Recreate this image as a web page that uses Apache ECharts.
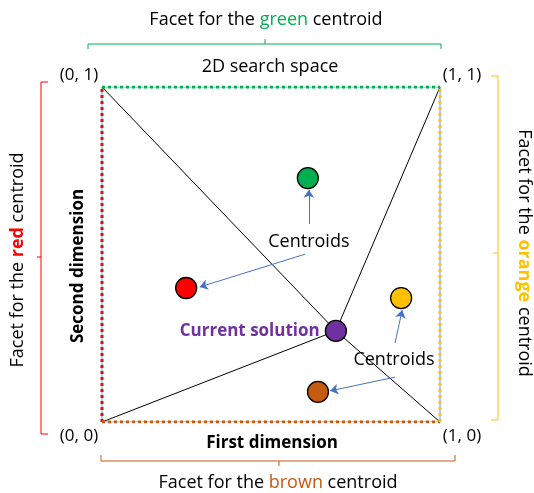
<!DOCTYPE html>
<html><head><meta charset="utf-8">
<script src="https://cdn.jsdelivr.net/npm/echarts@6/dist/echarts.min.js"></script>
<style>html,body{margin:0;padding:0;background:#fff}#c{width:534px;height:493px}</style>
</head><body><div id="c"></div>
<script>
// ---- data ----
const corners = [[0,0],[1,0],[0,1],[1,1]];
const cornerLabels = ['(0, 0)','(1, 0)','(0, 1)','(1, 1)'];
const current = [0.692, 0.272];
const centroidNames = ['green','red','orange','brown'];
const centroidX = [0.609, 0.249, 0.885, 0.639];
const centroidY = [0.728, 0.400, 0.370, 0.090];
const centroidColors = ['#00B050','#FF0000','#FFC000','#C55A11'];
const labelPos = [[0.612,0.537],[0.864,0.185]];
const arrowFrom = [[0.612,0.591],[0.601,0.501],[0.867,0.236],[0.867,0.134]];
const arrowTo   = [[0.612,0.693],[0.289,0.403],[0.888,0.334],[0.675,0.093]];
const edges = [ [[0,1],[1,1]], [[0,0],[0,1]], [[0,0],[1,0]], [[1,0],[1,1]] ];
const edgeColors = ['#00B050','#FF0000','#C55A11','#FFC000'];

const FONT = 'Open Sans';
const chart = echarts.init(document.getElementById('c'));
const series = [];
// spokes
corners.forEach(c => {
  series.push({type:'line', data:[c, current], symbol:'none', silent:true,
    lineStyle:{color:'#000', width:1}, z:2});
});
// square border
edges.forEach((e,i) => {
  series.push({type:'line', data:e, symbol:'none', silent:true, lineStyle:{color:'#7F9CCB', width:1}, z:3});
  series.push({type:'line', data:e, symbol:'none', silent:true, lineStyle:{color:edgeColors[i], width:3, type:[3,3]}, z:4});
});
// arrows
series.push({type:'lines', coordinateSystem:'cartesian2d', z:5,
  symbol:['none','arrow'], symbolSize:8,
  lineStyle:{color:'#4472C4', width:1, opacity:1},
  data: arrowFrom.map((f,i)=>({coords:[f, arrowTo[i]]}))});
// centroids
series.push({type:'scatter', symbolSize:21, z:6,
  data: centroidX.map((x,i)=>({value:[x,centroidY[i]], itemStyle:{color:centroidColors[i]}})),
  itemStyle:{borderColor:'#000', borderWidth:1.3, opacity:1}});
// current solution
series.push({type:'scatter', symbolSize:21, z:7,
  data:[current], itemStyle:{color:'#7030A0', borderColor:'#000', borderWidth:1.3, opacity:1},
  label:{show:true, position:'left', distance:5, formatter:'Current solution',
    color:'#7030A0', fontWeight:'bold', fontSize:17, fontFamily:FONT}});
// centroid labels
series.push({type:'scatter', symbolSize:0, z:8, data:labelPos, itemStyle:{opacity:1},
  label:{show:true, position:'inside', formatter:'Centroids', color:'#000', fontSize:18, fontFamily:FONT}});
// corner labels
const offs = [[-23,14],[22,14],[-23,-12],[22,-12]];
series.push({type:'scatter', symbolSize:0, z:8, itemStyle:{opacity:1},
  data: corners.map((c,i)=>({value:c, label:{offset:offs[i], formatter:cornerLabels[i]}})),
  label:{show:true, position:'inside', color:'#000', fontSize:17, fontFamily:FONT}});

const txt = (x,y,text,font) => ({type:'text', x:x, y:y, style:{text:text, fill:'#000', font:font, align:'center', verticalAlign:'middle'}});
const rich = (word,color,bold) => ({
  text:'{a|Facet for the }{w|'+word+'}{a| centroid}',
  rich:{a:{fontSize:18, fontFamily:FONT, fill:'#000'}, w:{fontSize:18, fontFamily:FONT, fill:color, fontWeight: bold?'bold':'normal'}}
});
const graphic = [
  txt(270,67,'2D search space','18px '+FONT),
  txt(272,443,'First dimension','bold 17px '+FONT),
  {type:'text', x:78, y:266, rotation:Math.PI/2, style:{text:'Second dimension', font:'bold 17px '+FONT, fill:'#000', align:'center', verticalAlign:'middle'}},
  {type:'text', x:266, y:20, style:Object.assign({align:'center', verticalAlign:'middle'}, rich('green','#00B050',false))},
  {type:'text', x:278, y:483, style:Object.assign({align:'center', verticalAlign:'middle'}, rich('brown','#C55A11',false))},
  {type:'text', x:18, y:260, rotation:Math.PI/2, style:Object.assign({align:'center', verticalAlign:'middle'}, rich('red','#FF0000',true))},
  {type:'text', x:524, y:253, rotation:-Math.PI/2, style:Object.assign({align:'center', verticalAlign:'middle'}, rich('orange','#FFC000',true))},
  // braces
  {type:'polyline', shape:{points:[[88,49],[88,44],[441,44],[441,49]]}, style:{stroke:'#00B050', lineWidth:1, fill:null}},
  {type:'line', shape:{x1:265,y1:44,x2:265,y2:39}, style:{stroke:'#00B050', lineWidth:1}},
  {type:'polyline', shape:{points:[[101,455],[101,461],[455,461],[455,455]]}, style:{stroke:'#C55A11', lineWidth:1, fill:null}},
  {type:'line', shape:{x1:279,y1:461,x2:279,y2:466}, style:{stroke:'#C55A11', lineWidth:1}},
  {type:'polyline', shape:{points:[[48,82],[41,82],[41,434],[48,434]]}, style:{stroke:'#FF0000', lineWidth:1, fill:null}},
  {type:'line', shape:{x1:41,y1:257,x2:37,y2:257}, style:{stroke:'#FF0000', lineWidth:1}},
  {type:'polyline', shape:{points:[[491,76],[498,76],[498,420],[491,420]]}, style:{stroke:'#FFC000', lineWidth:1, fill:null}},
  {type:'line', shape:{x1:498,y1:253,x2:493,y2:253}, style:{stroke:'#FFC000', lineWidth:1}}
];

chart.setOption({
  animation:false,
  grid:{left:102, right:94, top:87, bottom:71},
  xAxis:{type:'value', min:0, max:1, show:false},
  yAxis:{type:'value', min:0, max:1, show:false},
  series:series,
  graphic:graphic
});
</script></body></html>
